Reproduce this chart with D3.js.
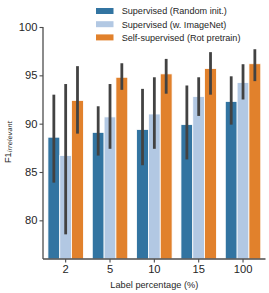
<!DOCTYPE html>
<html><head><meta charset="utf-8">
<script src="https://cdn.jsdelivr.net/npm/d3@7"></script>
<style>body{margin:0;background:#fff}svg{display:block;font-family:"Liberation Sans",Arial,sans-serif}</style>
</head><body><svg id="c" width="269" height="293"></svg>
<script>
const categories = ["2","5","10","15","100"];
const seriesNames = ["Supervised (Random init.)","Supervised (w. ImageNet)","Self-supervised (Rot pretrain)"];
const seriesColors = ["#3274a1","#b2c8e3","#e1812c"];
const randomInit = [88.6, 89.1, 89.4, 89.9, 92.3];
const randomInitLo = [83.9, 86.7, 85.7, 86.3, 89.9];
const randomInitHi = [93.0, 91.8, 93.6, 93.95, 94.9];
const imageNet = [86.7, 90.7, 91.0, 92.8, 94.25];
const imageNetLo = [78.55, 87.4, 87.4, 90.8, 92.5];
const imageNetHi = [94.1, 94.1, 94.8, 94.8, 96.15];
const rotPretrain = [92.4, 94.8, 95.15, 95.7, 96.2];
const rotPretrainLo = [88.97, 93.5, 93.1, 93.0, 94.4];
const rotPretrainHi = [95.95, 96.25, 96.7, 97.4, 97.7];
const yTicks = [80, 85, 90, 95, 100];

const series = [
  {v: randomInit, lo: randomInitLo, hi: randomInitHi},
  {v: imageNet, lo: imageNetLo, hi: imageNetHi},
  {v: rotPretrain, lo: rotPretrainLo, hi: rotPretrainHi}
];
const svg = d3.select("#c");
const x0 = d3.scaleBand().domain(categories).range([43.5, 265.2]).paddingInner(0).paddingOuter(0);
const x1 = d3.scaleBand().domain([0,1,2]).range([x0.bandwidth()*0.1, x0.bandwidth()*0.9]);
const y = d3.scaleLinear().domain([76, 100]).range([259, 27]);

const g = svg.append("g");
categories.forEach((c, i) => {
  series.forEach((s, j) => {
    const bx = x0(c) + x1(j);
    g.append("rect").attr("x", bx).attr("width", x1.bandwidth())
      .attr("y", y(s.v[i])).attr("height", y(76) - y(s.v[i]))
      .attr("fill", seriesColors[j]).attr("stroke", "#fff").attr("stroke-width", 0.8);
  });
});
categories.forEach((c, i) => {
  series.forEach((s, j) => {
    const cx = x0(c) + x1(j) + x1.bandwidth()/2;
    g.append("line").attr("x1", cx).attr("x2", cx)
      .attr("y1", y(s.lo[i])).attr("y2", y(s.hi[i]))
      .attr("stroke", "#424242").attr("stroke-width", 2.8);
  });
});

// axes
const axColor = "#4d4d4d";
const yAxis = svg.append("g").attr("transform", "translate(43,0)")
  .call(d3.axisLeft(y).tickValues(yTicks).tickSize(3.5).tickPadding(2));
yAxis.select(".domain").attr("d", `M0,${y(100)}V${y(76)}`);
const xAxis = svg.append("g").attr("transform", "translate(0,259)")
  .call(d3.axisBottom(x0).tickSize(3.5).tickPadding(2.5));
xAxis.select(".domain").attr("d", "M43,0H265.5");
[yAxis, xAxis].forEach(a => {
  a.selectAll(".domain").attr("stroke", axColor).attr("stroke-width", 1.3);
  a.selectAll(".tick line").attr("stroke", axColor).attr("stroke-width", 1.1);
  a.selectAll("text").attr("font-size", 11.2).attr("fill", "#262626")
    .attr("font-family", "Liberation Sans, Arial, sans-serif");
});

svg.append("text").attr("x", 154.3).attr("y", 288.3).attr("text-anchor", "middle")
  .attr("font-size", 9.2).attr("fill", "#262626").text("Label percentage (%)");
const yl = svg.append("text").attr("transform", "translate(10.5,142) rotate(-90)")
  .attr("text-anchor", "middle").attr("fill", "#262626");
yl.append("tspan").attr("font-size", 9.2).text("F1");
yl.append("tspan").attr("font-size", 6.5).attr("font-style", "italic")
  .attr("font-family", "DejaVu Sans").attr("dy", 1.3).text("irrelevant");

// legend
const leg = svg.append("g");
seriesNames.forEach((n, j) => {
  const ly = 11 + j * 13.2;
  leg.append("rect").attr("x", 96).attr("y", ly - 3).attr("width", 17.5).attr("height", 6)
    .attr("fill", seriesColors[j]);
  leg.append("text").attr("x", 121.7).attr("y", ly + 3.3).attr("font-size", 9.1)
    .attr("fill", "#262626").text(n);
});
</script></body></html>
